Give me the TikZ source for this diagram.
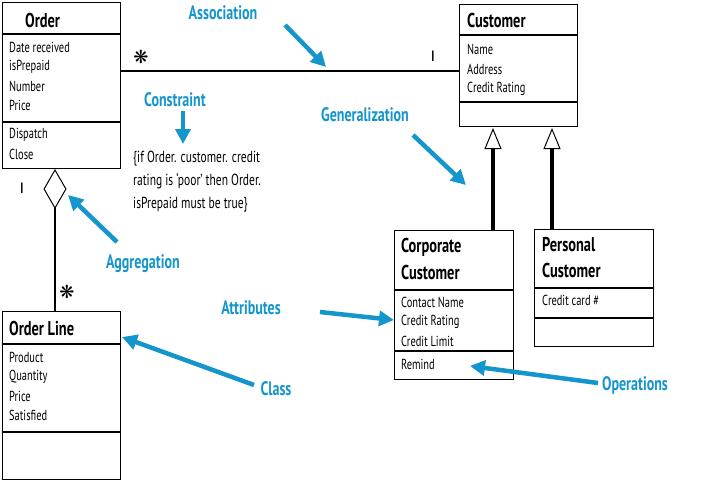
\documentclass[tikz,border=0pt]{standalone}
\usepackage{fontspec}
\setmainfont{PT Sans}[FakeStretch=0.72]
\newfontfamily\symfont{DejaVu Sans}
\usetikzlibrary{arrows.meta, positioning}
\definecolor{umlBlue}{RGB}{20,150,205}
\tikzset{
    classbox/.style={draw, line width=1pt, anchor=north west, inner sep=0pt},
    divider/.style={line width=2pt},
    ctitle/.style={anchor=west, inner sep=0pt, font=\bfseries\fontsize{20}{20}\selectfont},
    member/.style={anchor=west, inner sep=0pt, font=\fontsize{14.5}{14.5}\selectfont},
    mult/.style={inner sep=0pt, font=\bfseries\fontsize{15}{15}\selectfont},
    flower/.style={inner sep=0pt, font=\symfont\bfseries\fontsize{18}{18}\selectfont},
    note/.style={inner sep=0pt, text=umlBlue, font=\bfseries\fontsize{19.5}{19.5}\selectfont},
    pointer/.style={draw=umlBlue, line width=4.5pt, -{Triangle[length=15pt, width=15pt]}},
    inherit/.style={line width=4pt, -{Triangle[open, length=21pt, width=17pt, line width=1pt]}, shorten >=1pt}
}

\begin{document}
\begin{tikzpicture}[x=1pt, y=-1pt]
    % Page and margins
    \fill[white] (0,0) rectangle (712,480);
    \useasboundingbox (0,0) rectangle (712,480);

    % Class boxes
    \node[classbox, minimum width=118pt, minimum height=166pt] (order) at (2,2) {};
    \node[classbox, minimum width=118pt, minimum height=168pt] (orderline) at (2,311) {};
    \node[classbox, minimum width=118pt, minimum height=122pt] (customer) at (459,4) {};
    \node[classbox, minimum width=119pt, minimum height=149pt] (corporate) at (394,230) {};
    \node[classbox, minimum width=119pt, minimum height=117pt] (personal) at (534,229) {};

    % Compartment lines
    \draw[divider] (order.west |- 0,34) -- (order.east |- 0,34);
    \draw[divider] (order.west |- 0,122) -- (order.east |- 0,122);
    \draw[divider] (orderline.west |- 0,344) -- (orderline.east |- 0,344);
    \draw[divider] (orderline.west |- 0,432) -- (orderline.east |- 0,432);
    \draw[divider] (customer.west |- 0,35) -- (customer.east |- 0,35);
    \draw[divider] (customer.west |- 0,102) -- (customer.east |- 0,102);
    \draw[divider] (corporate.west |- 0,290) -- (corporate.east |- 0,290);
    \draw[divider] (corporate.west |- 0,351) -- (corporate.east |- 0,351);
    \draw[divider] (personal.west |- 0,288) -- (personal.east |- 0,288);
    \draw[divider] (personal.west |- 0,318) -- (personal.east |- 0,318);

    % Order
    \node[ctitle] (orderT) at (25,20) {Order};
    \node[member] (orderA1) at (9,47) {Date received};
    \node[member] (orderA2) at (9,67) {isPrepaid};
    \node[member] (orderA3) at (9,86) {Number};
    \node[member] (orderA4) at (9,105) {Price};
    \node[member] (orderO1) at (9,135) {Dispatch};
    \node[member] (orderO2) at (9,154) {Close};

    % Order Line
    \node[ctitle] (orderlineT) at (9,328) {Order Line};
    \node[member] (orderlineA1) at (9,357) {Product};
    \node[member] (orderlineA2) at (9,377) {Quantity};
    \node[member] (orderlineA3) at (9,396) {Price};
    \node[member] (orderlineA4) at (9,415) {Satisfied};

    % Customer
    \node[ctitle] (customerT) at (467,20) {Customer};
    \node[member] (customerA1) at (467,49) {Name};
    \node[member] (customerA2) at (467,69) {Address};
    \node[member] (customerA3) at (467,89) {Credit Rating};

    % Corporate Customer
    \node[ctitle] (corporateT1) at (401,247) {Corporate};
    \node[ctitle] (corporateT2) at (401,272) {Customer};
    \node[member] (corporateA1) at (401,302) {Contact Name};
    \node[member] (corporateA2) at (401,322) {Credit Rating};
    \node[member] (corporateA3) at (401,341) {Credit Limit};
    \node[member] (corporateO1) at (401,364) {Remind};

    % Personal Customer
    \node[ctitle] (personalT1) at (542,245) {Personal};
    \node[ctitle] (personalT2) at (542,270) {Customer};
    \node[member] (personalA1) at (542,300) {Credit card \#};

    % Constraint text
    \node[member, anchor=north west, align=left, font=\fontsize{16}{23}\selectfont] (rule) at (133,151)
        {\{if Order. customer. credit\\ rating is `poor' then Order.\\ isPrepaid must be true\}};

    % Association
    \draw[line width=2pt] (order.east |- 0,71) -- (customer.west |- 0,71);
    \node[flower] (manyA) at (141,57) {❋};
    \node[mult] (oneA) at (433,56) {I};

    % Aggregation
    \draw[line width=2pt, -{Diamond[open, length=40pt, width=23pt, line width=1pt]}]
        (orderline.north -| 55,0) -- (order.south -| 55,0);
    \node[mult] (oneB) at (22,188) {I};
    \node[flower] (manyB) at (67,292) {❋};

    % Generalization
    \draw[inherit] (corporate.north -| 493,0) -- (customer.south -| 493,0);
    \draw[inherit] (personal.north -| 552,0) -- (customer.south -| 552,0);

    % Blue callouts
    \node[note] (assocL) at (223,13) {Association};
    \node[note] (constrL) at (175,100) {Constraint};
    \node[note] (genL) at (365,115) {Generalization};
    \node[note] (aggL) at (143,264) {Aggregation};
    \node[note] (attrL) at (251,308) {Attributes};
    \node[note] (classL) at (276,389) {Class};
    \node[note] (opL) at (635,385) {Operations};

    \coordinate (assocS) at (285,25);    \coordinate (assocE) at (326,67);
    \coordinate (constrS) at (183,111);  \coordinate (constrE) at (183,144);
    \coordinate (genS) at (413,135);     \coordinate (genE) at (466,185);
    \coordinate (aggS) at (117,242);     \coordinate (aggE) at (68,195);
    \coordinate (attrS) at (320,312);    \coordinate (attrE) at (394,320);
    \coordinate (classS) at (254,385);   \coordinate (classE) at (122,337);
    \coordinate (opS) at (598,383);      \coordinate (opE) at (470,366);

    \draw[pointer] (assocS) -- (assocE);
    \draw[pointer] (constrS) -- (constrE);
    \draw[pointer] (genS) -- (genE);
    \draw[pointer] (aggS) -- (aggE);
    \draw[pointer] (attrS) -- (attrE);
    \draw[pointer] (classS) -- (classE);
    \draw[pointer] (opS) -- (opE);
\end{tikzpicture}
\end{document}
